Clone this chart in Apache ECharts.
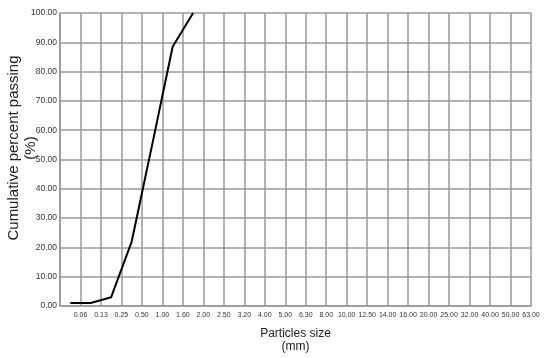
<!DOCTYPE html>
<html>
<head>
    <meta charset="utf-8">
    <title>Particle size distribution</title>
    <script src="https://cdn.jsdelivr.net/npm/echarts@6.0.0/dist/echarts.min.js"></script>
    <style>
        html, body { margin: 0; padding: 0; background: #fff; }
        #main { width: 550px; height: 358px; }
    </style>
</head>
<body>
<div id="main"></div>
<script type="text/javascript">
    // sieve sizes shown on the x axis (first slot has no label)
    var sieveLabels = ['', '0.06', '0.13', '0.25', '0.50', '1.00', '1.60', '2.00', '2.50', '3.20', '4.00', '5.00',
        '6.30', '8.00', '10.00', '12.50', '14.00', '16.00', '20.00', '25.00', '32.00', '40.00', '50.00', '63.00'];
    // where each measured point sits along the axis (half way between sieve lines)
    var pointPos = [0.5, 1.5, 2.5, 3.5, 4.5, 5.5, 6.5];
    // cumulative percent passing
    var passing = [1, 1, 3, 22, 55, 88.5, 100];

    var data = [];
    for (var i = 0; i < pointPos.length; i++) {
        data.push([pointPos[i], passing[i]]);
    }

    var myChart = echarts.init(document.getElementById('main'));
    var gridColor = '#999';
    var option = {
        animation: false,
        textStyle: { fontFamily: 'Arial, "Liberation Sans", sans-serif' },
        grid: { left: 60, right: 19, top: 13, bottom: 52, outerBoundsMode: 'none' },
        // y axis title, placed by hand so it sits a bit above the plot centre like the original
        graphic: [{
            type: 'text',
            x: 22,
            y: 148,
            rotation: Math.PI / 2,
            style: {
                text: 'Cumulative percent passing\n(%)',
                font: '15px Arial, "Liberation Sans", sans-serif',
                fill: '#222',
                lineHeight: 17,
                align: 'center',
                verticalAlign: 'middle'
            }
        }],
        xAxis: {
            type: 'value',
            min: 0,
            max: sieveLabels.length - 1,
            interval: 1,
            name: 'Particles size\n(mm)',
            nameLocation: 'middle',
            nameGap: 21,
            nameTextStyle: { fontSize: 12, color: '#222', lineHeight: 13 },
            axisLine: { show: true, lineStyle: { color: gridColor, width: 1.5 } },
            axisTick: { show: false },
            axisLabel: {
                fontSize: 7, color: '#333', margin: 6,
                formatter: function (v) { return sieveLabels[Math.round(v)] || ''; }
            },
            splitLine: { show: true, lineStyle: { color: gridColor, width: 1.5 } }
        },
        yAxis: {
            type: 'value',
            min: 0,
            max: 100,
            interval: 10,
            axisLine: { show: true, lineStyle: { color: gridColor, width: 1.5 } },
            axisTick: { show: false },
            axisLabel: {
                fontSize: 8.5, color: '#333', margin: 3,
                formatter: function (v) { return v.toFixed(2); }
            },
            splitLine: { show: true, lineStyle: { color: gridColor, width: 1.5 } }
        },
        series: [{
            type: 'line',
            data: data,
            symbol: 'none',
            lineStyle: { color: '#000', width: 2 },
            clip: true
        }]
    };
    myChart.setOption(option);
</script>
</body>
</html>
